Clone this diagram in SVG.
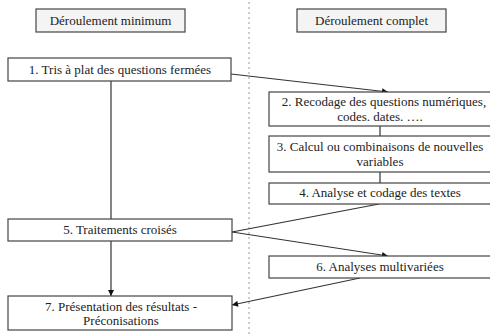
<svg xmlns="http://www.w3.org/2000/svg" width="490" height="334" viewBox="0 0 490 334">
<defs>
  <marker id="ah" viewBox="0 0 10 10" refX="10" refY="5" markerWidth="7" markerHeight="6" markerUnits="userSpaceOnUse" orient="auto">
    <path d="M0,0 L10,5 L0,10 z" fill="#111"/>
  </marker>
</defs>
<rect width="490" height="334" fill="#ffffff"/>
<line x1="249" y1="2" x2="249" y2="334" stroke="#999" stroke-width="1" stroke-dasharray="2,3"/>

<g id="header-minimum">
  <rect x="36" y="9" width="149" height="23" fill="#f4f4f4" stroke="#444" stroke-width="1.2"/>
  <text x="110.5" y="25" font-family="Liberation Serif" font-size="13" fill="#222" text-anchor="middle">Déroulement minimum</text>
</g>
<g id="header-complet">
  <rect x="297" y="9" width="149" height="23" fill="#f4f4f4" stroke="#444" stroke-width="1.2"/>
  <text x="371.5" y="25" font-family="Liberation Serif" font-size="13" fill="#222" text-anchor="middle">Déroulement complet</text>
</g>

<g id="connectors" stroke="#333" stroke-width="1.2" fill="none">
  <line x1="231" y1="74" x2="388" y2="92" marker-end="url(#ah)"/>
  <line x1="380" y1="126" x2="380" y2="136"/>
  <line x1="380" y1="172" x2="380" y2="183"/>
  <line x1="379" y1="204" x2="232" y2="232"/>
  <line x1="232" y1="232" x2="388" y2="256" marker-end="url(#ah)"/>
  <line x1="360" y1="278" x2="232" y2="305" marker-end="url(#ah)"/>
  <line x1="111" y1="81" x2="111" y2="219"/>
  <line x1="111" y1="241" x2="111" y2="296" marker-end="url(#ah)"/>
</g>

<g id="n1">
  <rect x="8" y="58" width="223" height="23" fill="#fff" stroke="#444" stroke-width="1.2"/>
  <text x="120" y="74" font-family="Liberation Serif" font-size="13" fill="#222" text-anchor="middle">1. Tris à plat des questions fermées</text>
</g>
<g id="n2">
  <rect x="269" y="92" width="230" height="34" fill="#fff" stroke="#444" stroke-width="1.2"/>
  <text x="384" y="106" font-family="Liberation Serif" font-size="13" fill="#222" text-anchor="middle">2. Recodage des questions numériques,</text>
  <text x="380" y="121" font-family="Liberation Serif" font-size="13" fill="#222" text-anchor="middle">codes. dates. ….</text>
</g>
<g id="n3">
  <rect x="269" y="136" width="230" height="36" fill="#fff" stroke="#444" stroke-width="1.2"/>
  <text x="380" y="151" font-family="Liberation Serif" font-size="13" fill="#222" text-anchor="middle">3. Calcul ou combinaisons de nouvelles</text>
  <text x="380" y="166" font-family="Liberation Serif" font-size="13" fill="#222" text-anchor="middle">variables</text>
</g>
<g id="n4">
  <rect x="269" y="183" width="230" height="21" fill="#fff" stroke="#444" stroke-width="1.2"/>
  <text x="380" y="197" font-family="Liberation Serif" font-size="13" fill="#222" text-anchor="middle">4. Analyse et codage des textes</text>
</g>
<g id="n5">
  <rect x="8" y="219" width="224" height="22" fill="#fff" stroke="#444" stroke-width="1.2"/>
  <text x="120" y="234" font-family="Liberation Serif" font-size="13" fill="#222" text-anchor="middle">5. Traitements croisés</text>
</g>
<g id="n6">
  <rect x="269" y="256" width="230" height="22" fill="#fff" stroke="#444" stroke-width="1.2"/>
  <text x="380" y="271" font-family="Liberation Serif" font-size="13" fill="#222" text-anchor="middle">6. Analyses multivariées</text>
</g>
<g id="n7">
  <rect x="8" y="296" width="224" height="34" fill="#fff" stroke="#444" stroke-width="1.2"/>
  <text x="121" y="311" font-family="Liberation Serif" font-size="13" fill="#222" text-anchor="middle">7. Présentation des résultats -</text>
  <text x="121" y="325" font-family="Liberation Serif" font-size="13" fill="#222" text-anchor="middle">Préconisations</text>
</g>
</svg>
